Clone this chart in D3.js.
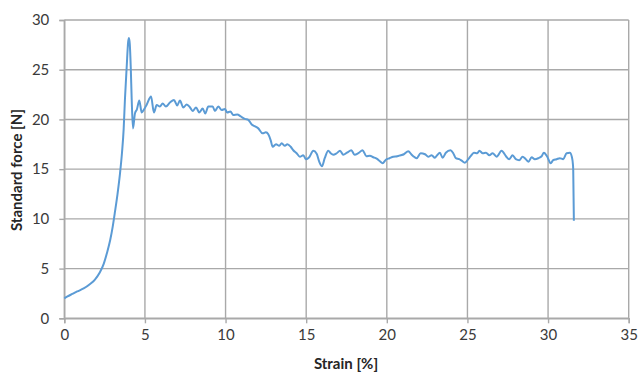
<!DOCTYPE html>
<html>
<head>
<meta charset="utf-8">
<script src="https://cdn.jsdelivr.net/npm/d3@7/dist/d3.min.js"></script>
<style>
  html, body { margin: 0; padding: 0; background: #fff; }
  svg { display: block; }
  .tick text { font-family: Lato, "Open Sans", sans-serif; font-size: 15px; fill: #3a3a3a; }
  .title { font-family: Lato, "Open Sans", sans-serif; font-size: 15px; font-weight: bold; fill: #262626; }
</style>
</head>
<body>
<svg id="chart" width="638" height="374"></svg>
<script>
// Tensile test: strain [%] vs standard force [N]
const strain = [
  0.00, 0.20, 0.50, 0.80, 1.20, 1.60, 1.90, 2.20, 2.45, 2.65, 2.85, 3.00, 3.15, 3.30, 3.45, 3.58, 3.68, 3.76, 3.87, 3.96,
  4.01, 4.06, 4.12, 4.18, 4.26,
  4.38, 4.50, 4.65, 4.80, 4.94, 5.10, 5.38, 5.56, 5.73, 5.93, 6.10, 6.30, 6.55, 6.80, 7.00, 7.17, 7.38, 7.59, 7.80, 7.96,
  8.17, 8.37, 8.58, 8.74, 8.93, 9.20, 9.34, 9.55, 9.76, 9.96, 10.10, 10.30, 10.48, 10.73, 10.94, 11.20, 11.41, 11.62, 11.83, 12.03,
  12.30, 12.50, 12.65, 12.80, 12.92, 13.13, 13.33, 13.48, 13.68, 13.83, 14.04, 14.20, 14.41, 14.61, 14.82, 14.98, 15.19, 15.44, 15.65, 15.81,
  15.98, 16.15, 16.37, 16.52, 16.68, 16.89, 17.10, 17.30, 17.53, 17.80, 18.00, 18.23, 18.50, 18.73, 18.95, 19.16, 19.37, 19.57, 19.74, 19.94,
  20.17, 20.40, 20.65, 20.85, 21.06, 21.33, 21.54, 21.64, 21.85, 22.10, 22.37, 22.57, 22.78, 22.98, 23.12, 23.29, 23.46, 23.66, 23.95, 24.12,
  24.28, 24.49, 24.64, 24.84, 25.05, 25.20, 25.40, 25.61, 25.74, 25.95, 26.15, 26.36, 26.56, 26.81, 27.12, 27.39, 27.59, 27.80, 28.00, 28.21,
  28.42, 28.62, 28.79, 28.98, 29.18, 29.39, 29.60, 29.74, 29.95, 30.16, 30.32, 30.53, 30.73, 30.94, 31.15, 31.35, 31.48, 31.54, 31.56, 31.60
];
const force = [
  2.00, 2.20, 2.45, 2.70, 3.00, 3.45, 3.90, 4.60, 5.50, 6.60, 7.90, 9.20, 10.80, 12.50, 14.50, 16.70, 19.00, 22.00, 25.30, 27.80,
  28.20, 27.60, 25.30, 22.00, 19.10,
  20.60, 21.00, 21.90, 20.70, 21.00, 21.45, 22.30, 20.70, 21.45, 21.30, 21.60, 21.30, 21.70, 21.96, 21.40, 21.90, 21.20, 21.50, 21.20, 20.85,
  21.20, 20.70, 21.10, 20.60, 21.30, 21.30, 20.85, 21.30, 20.95, 21.05, 20.70, 20.80, 20.45, 20.50, 20.30, 20.05, 19.95, 19.50, 19.30, 19.10,
  18.60, 18.70, 18.50, 17.90, 17.25, 17.50, 17.35, 17.60, 17.35, 17.50, 17.25, 16.90, 16.60, 16.25, 16.40, 16.00, 16.20, 16.85, 16.55, 15.75,
  15.30, 16.10, 16.85, 16.60, 16.45, 16.60, 16.85, 16.45, 16.65, 16.90, 16.45, 16.60, 16.90, 16.30, 16.35, 16.20, 16.05, 15.80, 15.60, 15.95,
  16.10, 16.25, 16.30, 16.40, 16.50, 16.80, 16.45, 16.30, 16.10, 16.60, 16.50, 16.25, 16.40, 16.15, 16.40, 16.65, 16.15, 16.65, 16.90, 16.60,
  16.10, 16.00, 15.85, 15.65, 16.00, 16.30, 16.65, 16.60, 16.85, 16.60, 16.65, 16.40, 16.60, 16.25, 16.85, 16.30, 16.00, 16.40, 16.00, 15.90,
  16.25, 16.00, 15.75, 16.20, 16.00, 16.10, 16.30, 16.65, 16.25, 15.60, 15.90, 16.00, 16.10, 16.00, 16.60, 16.65, 16.20, 15.50, 14.90, 9.80
];
const xTicks = [0, 5, 10, 15, 20, 25, 30, 35];
const yTicks = [0, 5, 10, 15, 20, 25, 30];
const xTitle = "Strain [%]";
const yTitle = "Standard force [N]";

const svg = d3.select("#chart");
const plotLeft = 64.3, plotRight = 628.7, plotTop = 20, plotBottom = 318.3;

const x = d3.scaleLinear().domain([0, 35]).range([plotLeft, plotRight]);
const y = d3.scaleLinear().domain([0, 30]).range([plotBottom, plotTop]);

const gridColor = "#a9a9a9";

// grid lines
svg.append("g").selectAll("line").data(xTicks).join("line")
  .attr("x1", d => x(d)).attr("x2", d => x(d))
  .attr("y1", plotTop).attr("y2", plotBottom)
  .attr("stroke", gridColor).attr("stroke-width", 1.4);
svg.append("g").selectAll("line").data(yTicks).join("line")
  .attr("x1", plotLeft).attr("x2", plotRight)
  .attr("y1", d => y(d)).attr("y2", d => y(d))
  .attr("stroke", gridColor).attr("stroke-width", 1.4);

// axes
const xAxis = d3.axisBottom(x).tickValues(xTicks).tickSize(5).tickPadding(6);
const gx = svg.append("g").attr("transform", `translate(0,${plotBottom})`).call(xAxis);
const yAxis = d3.axisLeft(y).tickValues(yTicks).tickSize(5).tickPadding(10);
const gy = svg.append("g").attr("transform", `translate(${plotLeft},0)`).call(yAxis);
[gx, gy].forEach(g => {
  g.select(".domain").attr("stroke", gridColor).attr("stroke-width", 1.4);
  g.selectAll(".tick line").attr("stroke", gridColor).attr("stroke-width", 1.4);
});

// data line, smoothed between samples
const line = d3.line()
  .x((d, i) => x(strain[i]))
  .y(d => y(d))
  .curve(d3.curveMonotoneX);
svg.append("path")
  .datum(force)
  .attr("d", line)
  .attr("fill", "none")
  .attr("stroke", "#5b9bd5")
  .attr("stroke-width", 2)
  .attr("stroke-linejoin", "round");

// axis titles
svg.append("text").attr("class", "title")
  .attr("x", 346).attr("y", 369)
  .attr("text-anchor", "middle")
  .text(xTitle);
svg.append("text").attr("class", "title")
  .attr("transform", "translate(22,170) rotate(-90)")
  .attr("text-anchor", "middle")
  .text(yTitle);
</script>
</body>
</html>
